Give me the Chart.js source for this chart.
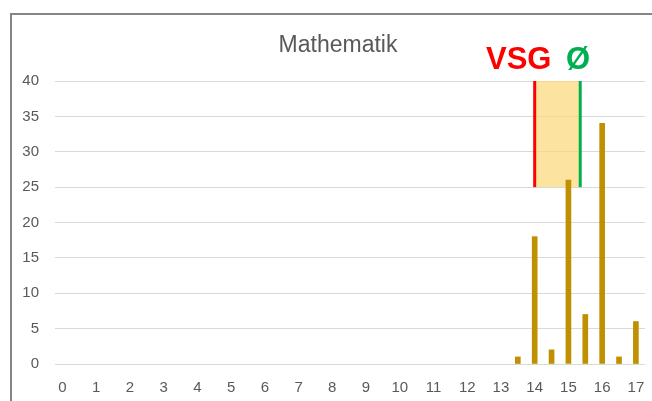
<!DOCTYPE html>
<html>
<head>
<meta charset="utf-8">
<script src="https://cdn.jsdelivr.net/npm/chart.js@4/dist/chart.umd.min.js"></script>
<style>
    html, body { margin: 0; padding: 0; background: #fff; }
    #wrap { position: relative; width: 652px; height: 401px; }
</style>
</head>
<body>
<div id="wrap"><canvas id="gradesChart" width="652" height="401"></canvas></div>
<script>
// Chart data
const gradeTicks = [0, 1, 2, 3, 4, 5, 6, 7, 8, 9, 10, 11, 12, 13, 14, 15, 16, 17];
const gradePoints = [13.5, 14, 14.5, 15, 15.5, 16, 16.5, 17];
const studentCounts = [1, 18, 2, 26, 7, 34, 1, 6];
const countTicks = [0, 5, 10, 15, 20, 25, 30, 35, 40];

// Marker band: VSG (red) to average (green)
const vsgValue = 14;
const averageValue = 15.35;
const bandRange = [25, 40];

const chartTitle = 'Mathematik';
const vsgLabel = 'VSG';
const averageLabel = 'Ø';

// Band and the two vertical marker lines, drawn behind the bars
const bandPlugin = {
    id: 'bandPlugin',
    beforeDatasetsDraw(chart) {
        const ctx = chart.ctx;
        const x = chart.scales.x;
        const y = chart.scales.y;
        const x1 = x.getPixelForValue(vsgValue);
        const x2 = x.getPixelForValue(averageValue);
        const yTop = y.getPixelForValue(bandRange[1]);
        const yBottom = y.getPixelForValue(bandRange[0]);

        ctx.save();
        ctx.fillStyle = 'rgba(252, 215, 120, 0.7)';
        ctx.fillRect(x1, yTop, x2 - x1, yBottom - yTop);

        ctx.lineWidth = 3;
        ctx.strokeStyle = '#ff0000';
        ctx.beginPath();
        ctx.moveTo(x1, yTop);
        ctx.lineTo(x1, yBottom);
        ctx.stroke();

        ctx.strokeStyle = '#00b050';
        ctx.beginPath();
        ctx.moveTo(x2, yTop);
        ctx.lineTo(x2, yBottom);
        ctx.stroke();
        ctx.restore();
    }
};

// Title, labels and the frame of the cropped chart
const decorPlugin = {
    id: 'decorPlugin',
    afterDraw(chart) {
        const ctx = chart.ctx;
        ctx.save();

        ctx.fillStyle = '#595959';
        ctx.font = '23px "Liberation Sans", Arial, sans-serif';
        ctx.textAlign = 'center';
        ctx.textBaseline = 'alphabetic';
        ctx.fillText(chartTitle, 338, 52);

        ctx.textAlign = 'left';
        ctx.font = 'bold 31px "Liberation Sans", Arial, sans-serif';
        ctx.fillStyle = '#ff0000';
        ctx.fillText(vsgLabel, 486, 69);
        ctx.fillStyle = '#00b050';
        ctx.fillText(averageLabel, 566, 69);

        ctx.fillStyle = '#858585';
        ctx.fillRect(10, 13, 2, chart.height);
        ctx.fillRect(10, 13, chart.width, 2);
        ctx.restore();
    }
};

const ctx = document.getElementById('gradesChart');

new Chart(ctx, {
    type: 'bar',
    data: {
        datasets: [{
            data: gradePoints.map((g, i) => ({ x: g, y: studentCounts[i] })),
            backgroundColor: '#bf9000',
            borderWidth: 0,
            barThickness: 5
        }]
    },
    options: {
        responsive: false,
        animation: false,
        layout: {
            padding: { top: 81, right: 7, bottom: 0, left: 0 }
        },
        plugins: {
            legend: { display: false },
            tooltip: { enabled: false }
        },
        scales: {
            x: {
                type: 'linear',
                min: -0.22,
                max: 17.27,
                offset: false,
                afterBuildTicks: scale => {
                    scale.ticks = gradeTicks.map(v => ({ value: v }));
                },
                afterFit: scale => {
                    scale.height = 37;
                    scale.paddingLeft = 0;
                    scale.paddingRight = 0;
                },
                grid: { display: false, drawTicks: false },
                border: { display: false },
                ticks: {
                    autoSkip: false,
                    maxRotation: 0,
                    padding: 15,
                    color: '#595959',
                    font: { family: '"Liberation Sans", Arial, sans-serif', size: 15 }
                }
            },
            y: {
                min: 0,
                max: 40,
                afterBuildTicks: scale => {
                    scale.ticks = countTicks.map(v => ({ value: v }));
                },
                afterFit: scale => {
                    scale.width = 55;
                    scale.paddingTop = 0;
                    scale.paddingBottom = 0;
                },
                grid: { color: '#d9d9d9', lineWidth: 1, drawTicks: false },
                border: { display: false },
                ticks: {
                    padding: 16,
                    color: '#595959',
                    font: { family: '"Liberation Sans", Arial, sans-serif', size: 15 }
                }
            }
        }
    },
    plugins: [bandPlugin, decorPlugin]
});
</script>
</body>
</html>
